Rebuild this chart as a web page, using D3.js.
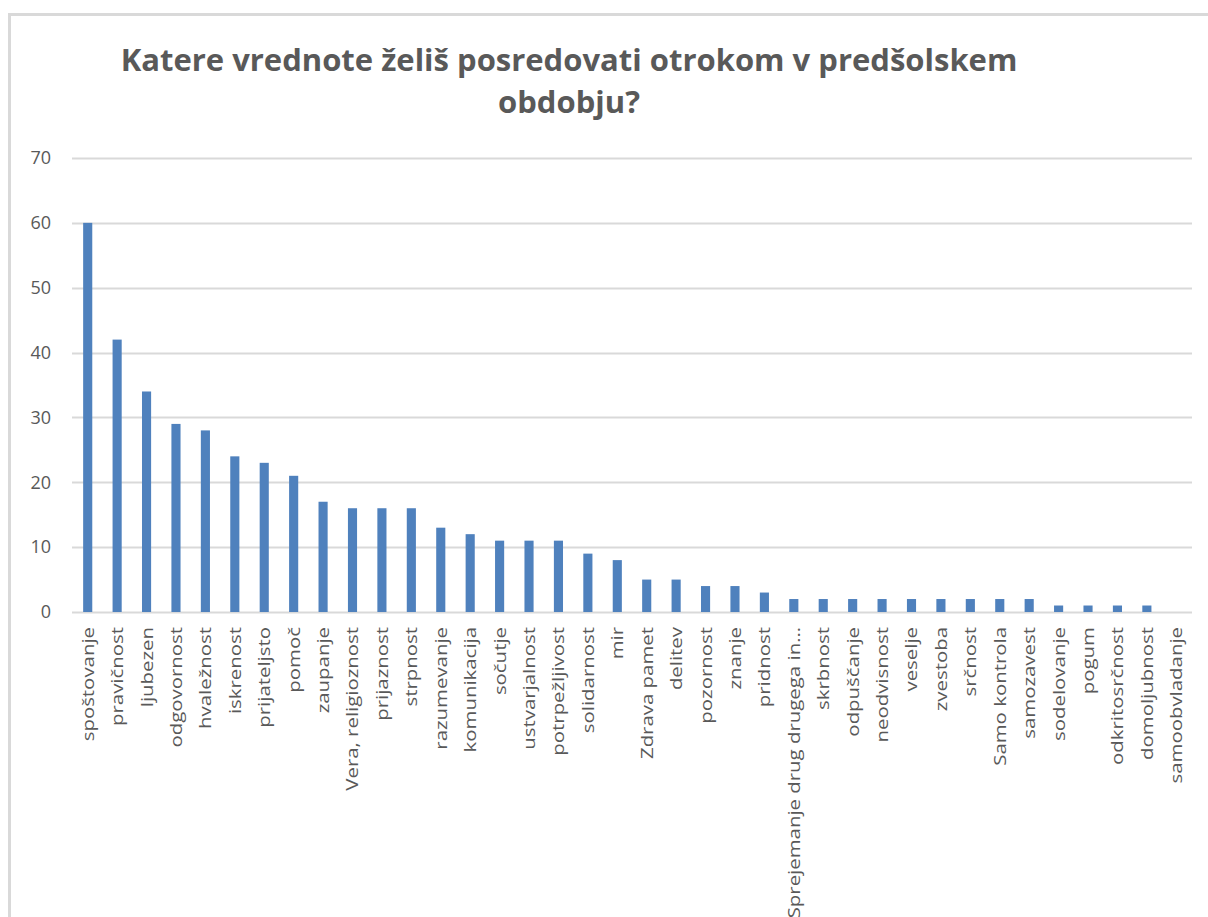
<!DOCTYPE html>
<html>
<head>
<meta charset="utf-8">
<script src="https://cdn.jsdelivr.net/npm/d3@7"></script>
<style>
  body { margin: 0; background: #fff; }
  svg text { font-family: "Open Sans", "DejaVu Sans", sans-serif; fill: #595959; }
</style>
</head>
<body>
<div id="chart"></div>
<script>
// chart data
var titleLines = ["Katere vrednote želiš posredovati otrokom v predšolskem", "obdobju?"];

var categories = ["spoštovanje", "pravičnost", "ljubezen", "odgovornost", "hvaležnost", "iskrenost",
    "prijateljsto", "pomoč", "zaupanje", "Vera, religioznost", "prijaznost", "strpnost",
    "razumevanje", "komunikacija", "sočutje", "ustvarjalnost", "potrpežljivost", "solidarnost",
    "mir", "Zdrava pamet", "delitev", "pozornost", "znanje", "pridnost",
    "Sprejemanje drug drugega in…", "skrbnost", "odpuščanje", "neodvisnost", "veselje", "zvestoba",
    "srčnost", "Samo kontrola", "samozavest", "sodelovanje", "pogum", "odkritosrčnost",
    "domoljubnost", "samoobvladanje"];

var values = [60, 42, 34, 29, 28, 24,
    23, 21, 17, 16, 16, 16,
    13, 12, 11, 11, 11, 9,
    8, 5, 5, 4, 4, 3,
    2, 2, 2, 2, 2, 2,
    2, 2, 2, 1, 1, 1,
    1, 0];

var yTicks = [0, 10, 20, 30, 40, 50, 60, 70];

var W = 1208, H = 917;
var margin = {top: 158, left: 73, right: 17, bottom: 305};

var svg = d3.select("#chart").append("svg")
    .attr("width", W)
    .attr("height", H);

// outer chart frame (runs off the right/bottom edge)
svg.append("rect")
    .attr("x", 9.5)
    .attr("y", 14.5)
    .attr("width", W + 20)
    .attr("height", H + 20)
    .attr("fill", "none")
    .attr("stroke", "#d9d9d9")
    .attr("stroke-width", 3);

// title
var title = svg.append("text")
    .attr("text-anchor", "middle")
    .style("font-weight", "bold")
    .style("font-size", "31px");
title.selectAll("tspan").data(titleLines).enter()
    .append("tspan")
    .attr("x", 569)
    .attr("y", function (d, i) { return 71 + i * 42; })
    .text(function (d) { return d; });

var x = d3.scaleBand()
    .domain(categories)
    .range([margin.left, W - margin.right])
    .paddingInner(0.69)
    .paddingOuter(0.345);

var y = d3.scaleLinear()
    .domain([0, 70])
    .range([H - margin.bottom, margin.top]);

// gridlines
svg.append("g")
    .selectAll("line")
    .data(yTicks)
    .enter().append("line")
    .attr("x1", margin.left - 1)
    .attr("x2", W - margin.right + 1)
    .attr("y1", function (d) { return Math.round(y(d)) + 0.5; })
    .attr("y2", function (d) { return Math.round(y(d)) + 0.5; })
    .attr("stroke", "#d9d9d9")
    .attr("stroke-width", 2);

// y axis labels
var yAxis = svg.append("g")
    .attr("transform", "translate(" + (margin.left - 22) + ",0)")
    .call(d3.axisLeft(y).tickValues(yTicks).tickSize(0).tickPadding(0));
yAxis.select(".domain").remove();
yAxis.selectAll("text")
    .style("font-size", "18px")
    .style("fill", "#595959");

// bars
svg.append("g")
    .selectAll("rect")
    .data(values)
    .enter().append("rect")
    .attr("x", function (d, i) { return x(categories[i]); })
    .attr("width", x.bandwidth())
    .attr("y", function (d) { return y(d); })
    .attr("height", function (d) { return y(0) - y(d); })
    .attr("fill", "#4f81bd");

// category labels, rotated
svg.append("g")
    .selectAll("text")
    .data(categories)
    .enter().append("text")
    .attr("text-anchor", "end")
    .attr("dy", "0.35em")
    .attr("transform", function (d) {
        return "translate(" + (x(d) + x.bandwidth() / 2) + "," + (y(0) + 15) + ") rotate(-90) scale(1.2,1)";
    })
    .style("font-size", "17px")
    .text(function (d) { return d; });
</script>
</body>
</html>
